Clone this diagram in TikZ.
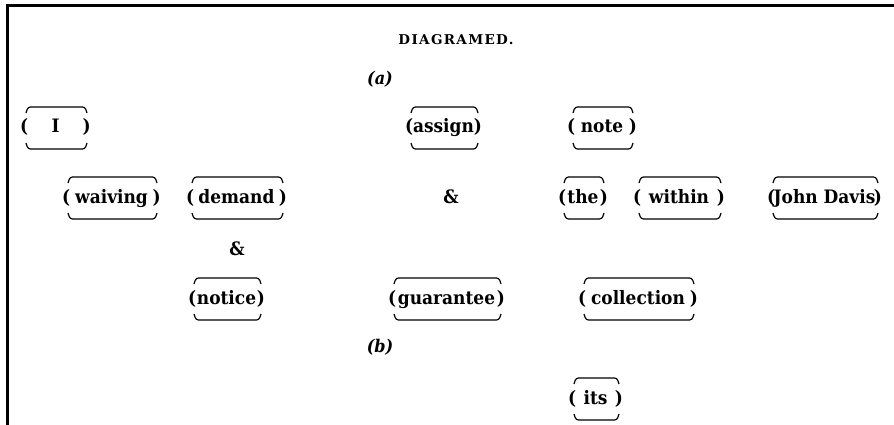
\documentclass[tikz,border=0pt]{standalone}
\usepackage{fontspec}
\setmainfont{DejaVu Serif}[FakeStretch=0.92]
\newfontfamily\titlefont{DejaVu Serif}[LetterSpace=10]
\begin{document}
\begin{tikzpicture}[x=1pt,y=-1pt,
  wtext/.style={font=\bfseries\fontsize{18.5}{21}\selectfont,inner sep=0pt,anchor=base},
  ptext/.style={font=\bfseries\fontsize{18.5}{21}\selectfont,inner sep=0pt},
  brk/.style={line width=1.2pt,rounded corners=2.5pt},
  frame/.style={line width=3pt},
  lbl/.style={font=\bfseries\itshape\fontsize{17.5}{20}\selectfont,inner sep=0pt}]
\useasboundingbox (0,0) rectangle (894,425);
\newcommand\wbox[5]{%
  \node[wtext] (#1) at ({(#3+#4)/2},{#5+6}) {#2};
  \node[ptext,anchor=base west] (#1L) at (#3,{#5+6}) {(};
  \node[ptext,anchor=base east] (#1R) at (#4,{#5+6}) {)};
  \draw[brk] ({#3+6},{#5-14}) -- ({#3+8},{#5-20}) -- ({#4-6},{#5-20}) -- ({#4-4},{#5-14});
  \draw[brk] ({#3+6},{#5+16}) -- ({#3+8},{#5+22}) -- ({#4-6},{#5+22}) -- ({#4-4},{#5+16});
}
% frame
\coordinate (fa) at (894,6);
\coordinate (fb) at (7,6);
\coordinate (fc) at (7,425);
\draw[frame] (fa) -- (5.5,6);
\draw[frame] (fb) -- (fc);
% title
\node[font=\titlefont\bfseries\fontsize{13.5}{16}\selectfont,inner sep=0pt] (title) at (456,40) {DIAGRAMED.};
\node[lbl] (a) at (380,79) {(\textit{a})};
\node[lbl] (b) at (380,347) {(\textit{b})};
% row 1
\wbox{I}{I}{20}{91}{127}
\wbox{assign}{assign}{405}{482}{127}
\wbox{note}{note}{567}{637}{127}
% row 2
\wbox{waiving}{waiving}{62}{161}{197}
\wbox{demand}{demand}{186}{287}{197}
\node[wtext,anchor=center] (amp1) at (451,197) {\&};
\wbox{the}{the}{558}{608}{197}
\wbox{within}{within}{633}{725}{197}
\wbox{john}{John Davis}{767}{882}{197}
% row 3
\node[wtext,anchor=center] (amp2) at (237,249) {\&};
% row 4
\wbox{notice}{notice}{188}{265}{298}
\wbox{guarantee}{guarantee}{388}{505}{298}
\wbox{collection}{collection}{578}{698}{298}
% row 5
\wbox{its}{its}{568}{623}{398}
\end{tikzpicture}
\end{document}
